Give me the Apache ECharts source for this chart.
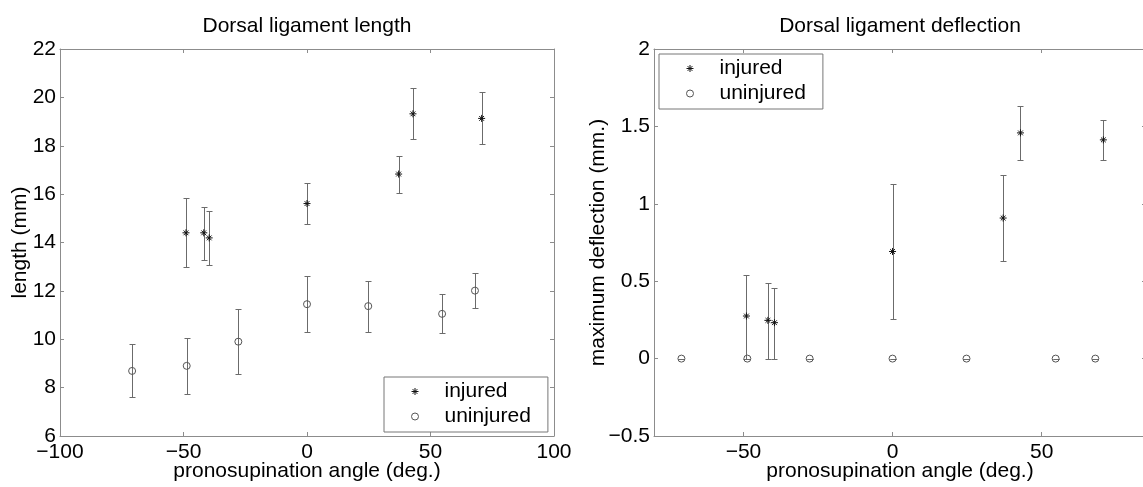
<!DOCTYPE html>
<html>
<head>
<meta charset="utf-8">
<title>Dorsal ligament length and deflection</title>
<script src="https://cdn.jsdelivr.net/npm/echarts@6/dist/echarts.min.js"></script>
<style>
  html, body { margin: 0; padding: 0; background: #ffffff; }
  #chart { width: 1143px; height: 487px; }
</style>
</head>
<body>
<div id="chart"></div>
<script>
// Pronosupination angles (deg.) of each measurement
const injuredAngle   = [-49, -41.8, -39.6, 0, 37.1, 42.9, 70.7];
const uninjuredAngle = [-70.8, -48.7, -27.8, 0, 24.8, 54.7, 68];

// Ligament length (mm): mean with lower / upper error bar ends
const lengthInjured       = [14.4, 14.4, 14.19, 15.61, 16.83, 19.32, 19.13];
const lengthInjuredLow    = [12.98, 13.28, 13.06, 14.76, 16.06, 18.28, 18.06];
const lengthInjuredHigh   = [15.83, 15.46, 15.32, 16.48, 17.59, 20.37, 20.22];
const lengthUninjured     = [8.69, 8.9, 9.9, 11.45, 11.37, 11.05, 12.01];
const lengthUninjuredLow  = [7.6, 7.72, 8.55, 10.32, 10.29, 10.26, 11.31];
const lengthUninjuredHigh = [9.8, 10.07, 11.24, 12.61, 12.41, 11.86, 12.73];

// Maximum deflection (mm.): mean with lower / upper error bar ends
const deflInjured       = [0.275, 0.247, 0.232, 0.692, 0.908, 1.458, 1.413];
const deflInjuredLow    = [0, 0, 0, 0.258, 0.632, 1.284, 1.28];
const deflInjuredHigh   = [0.54, 0.49, 0.458, 1.129, 1.187, 1.63, 1.542];
const deflUninjured     = [0, 0, 0, 0, 0, 0, 0];
const deflUninjuredLow  = [0, 0, 0, 0, 0, 0, 0];
const deflUninjuredHigh = [0, 0, 0, 0, 0, 0, 0];

// Tick values
const lengthXTicks = [-100, -50, 0, 50, 100];
const lengthYTicks = [6, 8, 10, 12, 14, 16, 18, 20, 22];
const deflXTicks   = [-50, 0, 50];
const deflYTicks   = [-0.5, 0, 0.5, 1, 1.5, 2];

const FONT = 'Liberation Sans, Arial, Helvetica, sans-serif';
const FRAME = '#8c8c8c';
const BAR = '#6b6b6b';
const STAR = 'path://M0,5L10,5M5,0L5,10M1.6,1.6L8.4,8.4M8.4,1.6L1.6,8.4';

const starStyle   = { color: 'transparent', borderColor: '#111', borderWidth: 1, opacity: 1 };
const circleStyle = { color: 'transparent', borderColor: '#555', borderWidth: 1, opacity: 1 };

const minus = v => String(v).replace('-', '\u2212');

function points(xs, ys) { return xs.map((x, i) => [x, ys[i]]); }
function ranges(xs, lo, hi) { return xs.map((x, i) => [x, lo[i], hi[i]]); }

// Vertical error bar with short caps at both ends
function errorBar(params, api) {
  const x = api.value(0);
  const lo = api.coord([x, api.value(1)]);
  const hi = api.coord([x, api.value(2)]);
  const cx = Math.round(lo[0]) + 0.5;
  const yl = Math.round(lo[1]) + 0.5;
  const yh = Math.round(hi[1]) + 0.5;
  const hw = 3;
  const style = { stroke: BAR, lineWidth: 1 };
  return {
    type: 'group',
    children: [
      { type: 'line', shape: { x1: cx, y1: yl, x2: cx, y2: yh }, style },
      { type: 'line', shape: { x1: cx - hw, y1: yl, x2: cx + hw, y2: yl }, style },
      { type: 'line', shape: { x1: cx - hw, y1: yh, x2: cx + hw, y2: yh }, style }
    ]
  };
}

function boxAxis(base, pos, ticks, withLabels, labelMargin) {
  return Object.assign({
    type: 'value',
    position: pos,
    splitLine: { show: false },
    nameMoveOverlap: false,
    axisLine: { show: true, onZero: false, lineStyle: { color: FRAME, width: 1 } },
    axisTick: { show: true, inside: true, length: 4, customValues: ticks, lineStyle: { color: FRAME } },
    axisLabel: withLabels
      ? { show: true, customValues: ticks, color: '#000', fontFamily: FONT, fontSize: 21,
          margin: labelMargin, formatter: minus }
      : { show: false }
  }, base);
}

const axisNameStyle = { color: '#000', fontFamily: FONT, fontSize: 21 };

function errorSeries(name, xi, yi, data) {
  return {
    name, type: 'custom', xAxisIndex: xi, yAxisIndex: yi,
    renderItem: errorBar, encode: { x: 0, y: [1, 2] }, data, z: 1, silent: true
  };
}
function starSeries(xi, yi, data) {
  return {
    name: 'injured', type: 'scatter', xAxisIndex: xi, yAxisIndex: yi, data,
    symbol: STAR, symbolSize: 7, z: 3, itemStyle: starStyle
  };
}
function circleSeries(xi, yi, data) {
  return {
    name: 'uninjured', type: 'scatter', xAxisIndex: xi, yAxisIndex: yi, data,
    symbol: 'circle', symbolSize: 7, z: 3, itemStyle: circleStyle
  };
}

function legendAt(left, top) {
  return {
    left, top, orient: 'vertical',
    data: [
      { name: 'injured', icon: STAR, itemStyle: starStyle },
      { name: 'uninjured', icon: 'circle', itemStyle: circleStyle }
    ],
    selectedMode: false,
    backgroundColor: '#fff', borderColor: '#777', borderWidth: 1, borderRadius: 0,
    padding: [4, 17, 5, 27], itemWidth: 7, itemHeight: 7, itemGap: 4,
    textStyle: { color: '#000', fontFamily: FONT, fontSize: 21, lineHeight: 21, padding: [0, 0, 0, 21] }
  };
}

const chart = echarts.init(document.getElementById('chart'), null, { renderer: 'canvas' });

chart.setOption({
  animation: false,
  backgroundColor: '#ffffff',
  title: [
    { text: 'Dorsal ligament length', left: 307, top: 16, textAlign: 'center', padding: 0,
      textStyle: { color: '#000', fontFamily: FONT, fontSize: 21, fontWeight: 'normal' } },
    { text: 'Dorsal ligament deflection', left: 900, top: 16, textAlign: 'center', padding: 0,
      textStyle: { color: '#000', fontFamily: FONT, fontSize: 21, fontWeight: 'normal' } }
  ],
  grid: [
    { left: 60, top: 49, right: 589, bottom: 51, containLabel: false, outerBoundsMode: 'none' },
    { left: 654, top: 49, right: -3, bottom: 51, containLabel: false, outerBoundsMode: 'none' }
  ],
  xAxis: [
    boxAxis({ gridIndex: 0, min: -100, max: 100, interval: 50,
      name: 'pronosupination angle (deg.)', nameLocation: 'middle', nameGap: 25,
      nameTextStyle: axisNameStyle }, 'bottom', lengthXTicks, true, 6),
    boxAxis({ gridIndex: 0, min: -100, max: 100, interval: 50 }, 'top', lengthXTicks, false),
    boxAxis({ gridIndex: 1, min: -80, max: 85,
      name: 'pronosupination angle (deg.)', nameLocation: 'middle', nameGap: 25,
      nameTextStyle: axisNameStyle }, 'bottom', deflXTicks, true, 6),
    boxAxis({ gridIndex: 1, min: -80, max: 85 }, 'top', deflXTicks, false)
  ],
  yAxis: [
    boxAxis({ gridIndex: 0, min: 6, max: 22, interval: 2,
      name: 'length (mm)', nameLocation: 'middle', nameGap: 29,
      nameTextStyle: axisNameStyle }, 'left', lengthYTicks, true, 4),
    boxAxis({ gridIndex: 0, min: 6, max: 22, interval: 2 }, 'right', lengthYTicks, false),
    boxAxis({ gridIndex: 1, min: -0.5, max: 2, interval: 0.5,
      name: 'maximum deflection (mm.)', nameLocation: 'middle', nameGap: 45,
      nameTextStyle: axisNameStyle }, 'left', deflYTicks, true, 4),
    boxAxis({ gridIndex: 1, min: -0.5, max: 2, interval: 0.5 }, 'right', deflYTicks, false)
  ],
  legend: [legendAt(384, 377), legendAt(659, 54)],
  series: [
    errorSeries('injured range', 0, 0, ranges(injuredAngle, lengthInjuredLow, lengthInjuredHigh)),
    errorSeries('uninjured range', 0, 0, ranges(uninjuredAngle, lengthUninjuredLow, lengthUninjuredHigh)),
    starSeries(0, 0, points(injuredAngle, lengthInjured)),
    circleSeries(0, 0, points(uninjuredAngle, lengthUninjured)),
    errorSeries('injured deflection range', 2, 2, ranges(injuredAngle, deflInjuredLow, deflInjuredHigh)),
    errorSeries('uninjured deflection range', 2, 2, ranges(uninjuredAngle, deflUninjuredLow, deflUninjuredHigh)),
    starSeries(2, 2, points(injuredAngle, deflInjured)),
    circleSeries(2, 2, points(uninjuredAngle, deflUninjured))
  ]
});
</script>
</body>
</html>
